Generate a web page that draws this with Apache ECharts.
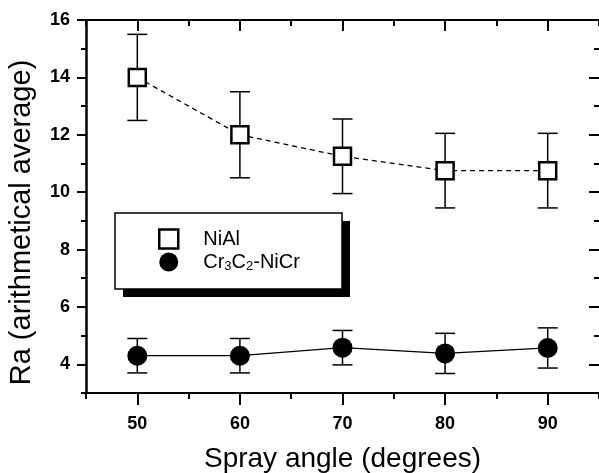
<!DOCTYPE html>
<html>
<head>
<meta charset="utf-8">
<script src="https://cdn.jsdelivr.net/npm/echarts@6/dist/echarts.min.js"></script>
<style>html,body{margin:0;padding:0;background:#fff}#c{width:599px;height:473px}</style>
</head>
<body>
<div id="c"></div>
<script>
const angles = [50, 60, 70, 80, 90];
const niAlMean = [14.0, 12.0, 11.25, 10.75, 10.75];
const niAlErr = [1.5, 1.5, 1.3, 1.3, 1.3];
const crMean = [4.3, 4.3, 4.58, 4.38, 4.57];
const crErr = [0.6, 0.6, 0.6, 0.7, 0.7];
const xMajorTicks = [50, 60, 70, 80, 90];
const yMajorTicks = [4, 6, 8, 10, 12, 14, 16];

const FONT = '"Liberation Sans", Arial, sans-serif';
const chart = echarts.init(document.getElementById('c'), null, {renderer: 'canvas'});

function errData(mean, err) {
  return angles.map((a, i) => [a, mean[i] - err[i], mean[i] + err[i]]);
}
function errRender(params, api) {
  const x = api.value(0);
  const lo = api.coord([x, api.value(1)]);
  const hi = api.coord([x, api.value(2)]);
  const hw = 10;
  const st = {stroke: '#000', lineWidth: 1.5};
  return {
    type: 'group',
    children: [
      {type: 'line', shape: {x1: lo[0], y1: lo[1], x2: hi[0], y2: hi[1]}, style: st},
      {type: 'line', shape: {x1: lo[0] - hw, y1: lo[1], x2: lo[0] + hw, y2: lo[1]}, style: st},
      {type: 'line', shape: {x1: hi[0] - hw, y1: hi[1], x2: hi[0] + hw, y2: hi[1]}, style: st}
    ]
  };
}

const labelStyle = {color: '#000', fontFamily: FONT, fontSize: 18, fontWeight: 'bold'};

const option = {
  animation: false,
  backgroundColor: '#fff',
  grid: {left: 86, top: 20, right: 0, bottom: 80, containLabel: false, outerBoundsMode: 'none'},
  xAxis: [
    {type: 'value', min: 45, max: 95, position: 'bottom',
     name: 'Spray angle (degrees)', nameLocation: 'middle', nameGap: 52,
     nameTextStyle: {color: '#000', fontFamily: FONT, fontSize: 28},
     axisLine: {show: true, lineStyle: {color: '#000', width: 2}},
     axisTick: {show: true, inside: false, length: 12, customValues: xMajorTicks, lineStyle: {color: '#000', width: 2}},
     axisLabel: Object.assign({show: true, margin: 22, customValues: xMajorTicks}, labelStyle),
     splitLine: {show: false}},
    {type: 'value', min: 45, max: 95, interval: 10, position: 'bottom',
     axisLine: {show: false},
     axisTick: {show: true, inside: false, length: 6, lineStyle: {color: '#000', width: 2}},
     axisLabel: {show: false}, splitLine: {show: false}},
    {type: 'value', min: 45, max: 95, position: 'top',
     axisLine: {show: true, lineStyle: {color: '#000', width: 2}},
     axisTick: {show: true, inside: true, length: 11, customValues: xMajorTicks, lineStyle: {color: '#000', width: 2}},
     axisLabel: {show: false}, splitLine: {show: false}},
    {type: 'value', min: 45, max: 95, interval: 10, position: 'top',
     axisLine: {show: false},
     axisTick: {show: true, inside: true, length: 6, lineStyle: {color: '#000', width: 2}},
     axisLabel: {show: false}, splitLine: {show: false}}
  ],
  yAxis: [
    {type: 'value', min: 3, max: 16, position: 'left',
     name: '{t|Ra (arithmetical average)}{sp| }', nameLocation: 'middle', nameGap: 50,
     nameTextStyle: {color: '#000', fontFamily: FONT, fontSize: 29,
       rich: {t: {fontFamily: FONT, fontSize: 29, color: '#000'}, sp: {width: 32, fontSize: 29}}},
     axisLine: {show: true, lineStyle: {color: '#000', width: 2.5}},
     axisTick: {show: true, inside: false, length: 9, customValues: yMajorTicks, lineStyle: {color: '#000', width: 2}},
     axisLabel: Object.assign({show: true, margin: 16, customValues: yMajorTicks}, labelStyle),
     splitLine: {show: false}},
    {type: 'value', min: 3, max: 16, interval: 2, position: 'left',
     axisLine: {show: false},
     axisTick: {show: true, inside: false, length: 5, lineStyle: {color: '#000', width: 2}},
     axisLabel: {show: false}, splitLine: {show: false}},
    {type: 'value', min: 3, max: 16, position: 'right',
     axisLine: {show: false},
     axisTick: {show: true, inside: true, length: 10, customValues: yMajorTicks, lineStyle: {color: '#000', width: 2}},
     axisLabel: {show: false}, splitLine: {show: false}},
    {type: 'value', min: 3, max: 16, interval: 2, position: 'right',
     axisLine: {show: false},
     axisTick: {show: true, inside: true, length: 5, lineStyle: {color: '#000', width: 2}},
     axisLabel: {show: false}, splitLine: {show: false}}
  ],
  graphic: [
    {type: 'rect', shape: {x: 123, y: 221, width: 227, height: 76}, style: {fill: '#000'}, z: 1},
    {type: 'rect', shape: {x: 115, y: 213, width: 227, height: 76}, style: {fill: '#fff', stroke: '#000', lineWidth: 1.5}, z: 2}
  ],
  legend: {
    show: true, orient: 'vertical', left: 158, top: 228, z: 10,
    itemWidth: 19, itemHeight: 19, itemGap: 1, padding: 0,
    textStyle: {color: '#000', fontFamily: FONT, fontSize: 20, lineHeight: 22,
      rich: {s: {fontFamily: FONT, fontSize: 13, lineHeight: 12, verticalAlign: 'bottom', color: '#000'},
             n: {fontFamily: FONT, fontSize: 20, lineHeight: 22, color: '#000'},
             p: {width: 20, fontSize: 20, lineHeight: 22}}},
    formatter: function (name) {
      if (name === 'Cr3C2-NiCr') return '{p| }{n|Cr}{s|3}{n|C}{s|2}{n|-NiCr}';
      return '{p| }{n|' + name + '}';
    },
    data: [
      {name: 'NiAl', icon: 'path://M2,2L17,2L17,17L2,17Z', itemStyle: {color: '#fff', borderColor: '#000', borderWidth: 2.5}},
      {name: 'Cr3C2-NiCr', icon: 'circle', itemStyle: {color: '#000', borderWidth: 0}}
    ]
  },
  series: [
    {type: 'custom', name: 'NiAl err', renderItem: errRender, data: errData(niAlMean, niAlErr), xAxisIndex: 0, yAxisIndex: 0, z: 1, silent: true},
    {type: 'custom', name: 'Cr err', renderItem: errRender, data: errData(crMean, crErr), xAxisIndex: 0, yAxisIndex: 0, z: 1, silent: true},
    {type: 'line', name: 'NiAl', data: angles.map((a, i) => [a, niAlMean[i]]), xAxisIndex: 0, yAxisIndex: 0,
     symbol: 'rect', symbolSize: 17, z: 3,
     lineStyle: {color: '#000', width: 1.3, type: [5, 4]},
     itemStyle: {color: '#fff', borderColor: '#000', borderWidth: 2.5}},
    {type: 'line', name: 'Cr3C2-NiCr', data: angles.map((a, i) => [a, crMean[i]]), xAxisIndex: 0, yAxisIndex: 0,
     symbol: 'circle', symbolSize: 20, z: 3,
     lineStyle: {color: '#000', width: 1.3},
     itemStyle: {color: '#000', borderWidth: 0}}
  ]
};
chart.setOption(option);
</script>
</body>
</html>
